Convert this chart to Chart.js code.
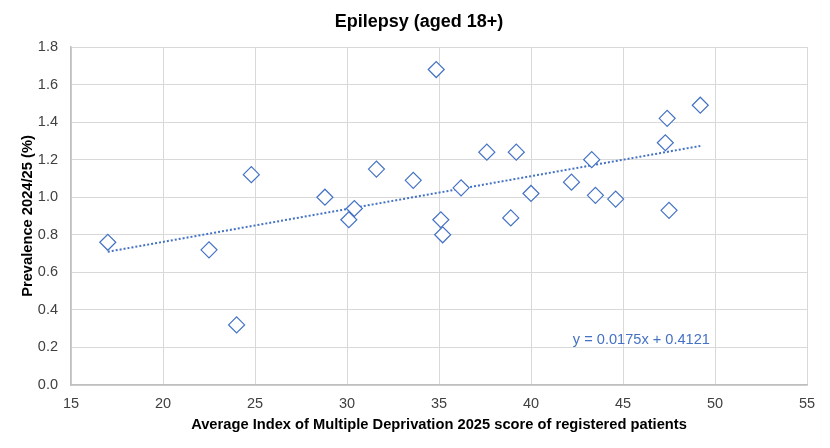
<!DOCTYPE html>
<html>
<head>
<meta charset="utf-8">
<script src="https://cdn.jsdelivr.net/npm/chart.js@4.4.1/dist/chart.umd.min.js"></script>
<style>
  html, body { margin: 0; padding: 0; background: #fff; }
  #wrap { width: 830px; height: 448px; }
</style>
</head>
<body>
<div id="wrap"><canvas id="c" width="830" height="448"></canvas></div>
<script>
const chartTitle = "Epilepsy (aged 18+)";
const xAxisTitle = "Average Index of Multiple Deprivation 2025 score of registered patients";
const yAxisTitle = "Prevalence 2024/25 (%)";
const imdScores = [17.0, 22.5, 24.0, 24.8, 28.8, 30.4, 30.1, 31.6, 33.6, 34.85, 35.1, 35.2, 36.2, 37.6, 39.2, 38.9, 40.0, 42.2, 43.3, 43.5, 44.6, 47.4, 47.3, 47.5, 49.2];
const prevalence = [0.76, 0.72, 0.32, 1.12, 1.00, 0.94, 0.88, 1.15, 1.09, 1.68, 0.88, 0.80, 1.05, 1.24, 1.24, 0.89, 1.02, 1.08, 1.20, 1.01, 0.99, 1.42, 1.29, 0.93, 1.49];
const trendSlope = 0.0175;
const trendIntercept = 0.4121;
const trendLabel = "y = 0.0175x + 0.4121";
const trendLabelPos = [46.0, 0.24];

const points = imdScores.map((x, i) => ({ x: x, y: prevalence[i] }));
const xMin = Math.min(...imdScores), xMax = Math.max(...imdScores);
const trendPoints = [xMin, xMax].map(x => ({ x: x, y: trendSlope * x + trendIntercept }));

const FONT = "'Liberation Sans', Arial, sans-serif";
const BLUE = "#4472C4";

const textPlugin = {
  id: 'texts',
  afterDraw(chart) {
    const ctx = chart.ctx;
    const xs = chart.scales.x, ys = chart.scales.y;
    ctx.save();
    ctx.font = "14.6px " + FONT;
    ctx.fillStyle = BLUE;
    ctx.textAlign = 'center';
    ctx.textBaseline = 'middle';
    ctx.fillText(trendLabel, xs.getPixelForValue(trendLabelPos[0]), ys.getPixelForValue(trendLabelPos[1]));
    ctx.font = "bold 18px " + FONT;
    ctx.fillStyle = '#000000';
    ctx.fillText(chartTitle, 419, 22);
    ctx.restore();
  }
};

new Chart(document.getElementById('c'), {
  type: 'scatter',
  data: {
    datasets: [
      {
        label: 'Practices',
        data: points,
        pointStyle: 'rectRot',
        pointRadius: 8,
        pointHoverRadius: 8,
        pointBackgroundColor: '#ffffff',
        pointBorderColor: BLUE,
        pointBorderWidth: 1.2,
        order: 1
      },
      {
        label: 'Trend',
        type: 'line',
        data: trendPoints,
        borderColor: BLUE,
        borderWidth: 2,
        borderDash: [2, 2],
        pointRadius: 0,
        fill: false,
        order: 2
      }
    ]
  },
  options: {
    responsive: false,
    animation: false,
    devicePixelRatio: 1,
    layout: { padding: { left: 0, right: 23, top: 47, bottom: 14 } },
    plugins: {
      legend: { display: false },
      tooltip: { enabled: false },
      title: { display: false }
    },
    scales: {
      x: {
        type: 'linear',
        min: 15, max: 55,
        ticks: { stepSize: 5, color: '#404040', font: { family: FONT, size: 14.5 }, padding: 10 },
        grid: { color: '#d9d9d9', lineWidth: 1, drawTicks: false },
        border: { color: '#bfbfbf', width: 1.5 },
        title: { display: true, text: xAxisTitle, color: '#000000', font: { family: FONT, size: 14.7, weight: 'bold' }, padding: { top: 2, bottom: 0 } },
        afterFit(scale) { scale.height = 49; }
      },
      y: {
        type: 'linear',
        min: 0, max: 1.8,
        ticks: { stepSize: 0.2, color: '#404040', font: { family: FONT, size: 14.5 }, padding: 13, callback: v => v.toFixed(1) },
        grid: { color: '#d9d9d9', lineWidth: 1, drawTicks: false },
        border: { color: '#bfbfbf', width: 1.5 },
        title: { display: true, text: yAxisTitle, color: '#000000', font: { family: FONT, size: 14.7, weight: 'bold' }, padding: { top: 19, bottom: 0 } },
        afterFit(scale) { scale.width = 71; }
      }
    }
  },
  plugins: [textPlugin]
});
</script>
</body>
</html>
